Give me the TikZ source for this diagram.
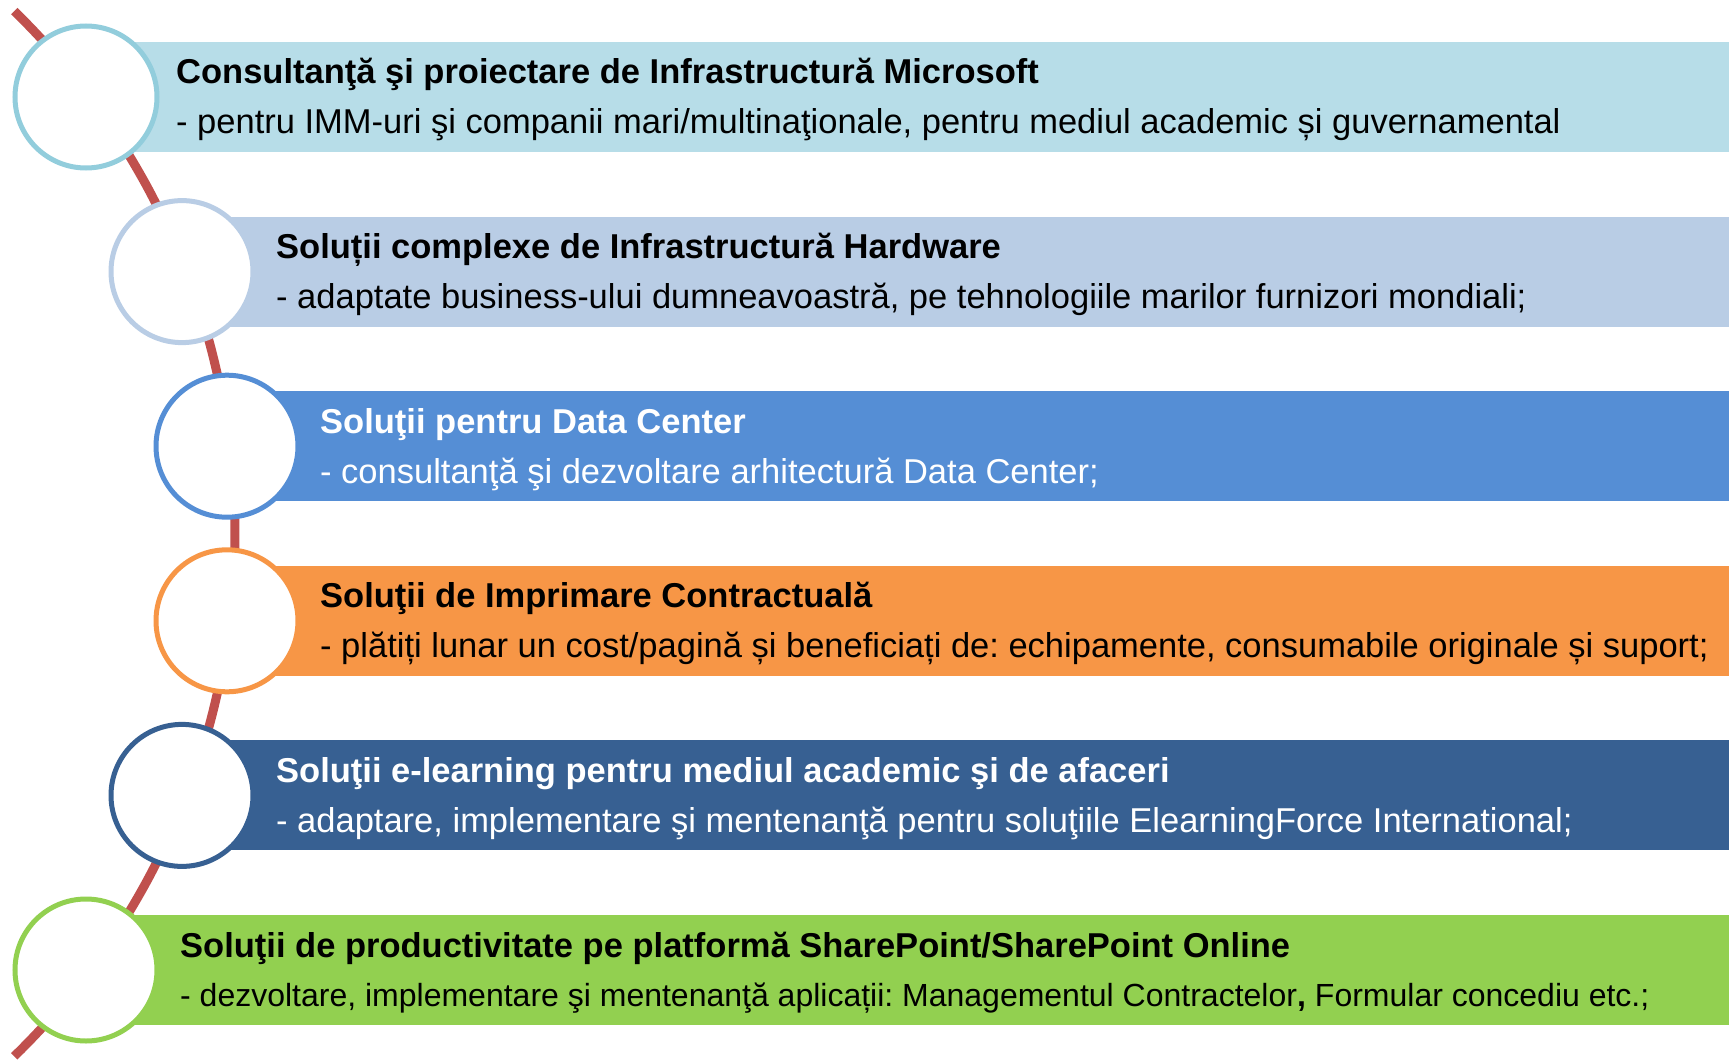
\documentclass[tikz,border=0pt]{standalone}
\usepackage{fontspec}
\setmainfont{Liberation Sans}
\frenchspacing
\definecolor{cA}{HTML}{B7DDE8}\definecolor{bA}{HTML}{92CDDC}
\definecolor{cB}{HTML}{B9CDE5}\definecolor{bB}{HTML}{B9CDE5}
\definecolor{cC}{HTML}{558ED5}\definecolor{bC}{HTML}{558ED5}
\definecolor{cD}{HTML}{F79646}\definecolor{bD}{HTML}{F79646}
\definecolor{cE}{HTML}{376092}\definecolor{bE}{HTML}{376092}
\definecolor{cF}{HTML}{92D050}\definecolor{bF}{HTML}{92D050}
\definecolor{arcred}{HTML}{C0504D}
\tikzset{
  bar/.style={fill=#1, draw=none, anchor=west, minimum height=110pt, inner sep=0pt},
  ring/.style={circle, draw=#1, line width=5pt, fill=white, minimum size=142pt, inner sep=0pt},
  ttl/.style={anchor=base west, inner sep=0pt, font=\fontsize{34.5}{40}\selectfont\bfseries, text=#1},
  sub/.style={anchor=base west, inner sep=0pt, font=\fontsize{34.5}{40}\selectfont, text=#1},
}
\begin{document}
\begin{tikzpicture}[x=1pt,y=-1pt]
\useasboundingbox (0,0) rectangle (1729,1062);
\draw[arcred, line width=9pt] plot[domain=-45.8:45.8, samples=120, smooth] ({-494+729*cos(\x)}, {533.7+729*sin(\x)});
% bars
\node[bar=cA, minimum width=1643pt] (barA) at (86,97) {};
\node[bar=cB, minimum width=1547pt] (barB) at (182,271.6) {};
\node[bar=cC, minimum width=1503pt] (barC) at (226,446.2) {};
\node[bar=cD, minimum width=1503pt] (barD) at (226,620.8) {};
\node[bar=cE, minimum width=1547pt] (barE) at (182,795.4) {};
\node[bar=cF, minimum width=1643pt] (barF) at (86,970) {};
% circles
\node[ring=bA] (cirA) at (86,97) {};
\node[ring=bB] (cirB) at (182,271.6) {};
\node[ring=bC] (cirC) at (227,446.2) {};
\node[ring=bD] (cirD) at (227,620.8) {};
\node[ring=bE] (cirE) at (182,795.4) {};
\node[ring=bF] (cirF) at (86,970) {};
% texts
\node[ttl=black] (tA) at (176,84) {Consultanţă şi proiectare de Infrastructură Microsoft};
\node[sub=black] (sA) at (176,134) {- pentru IMM-uri şi companii mari/multinaţionale, pentru mediul academic și guvernamental};
\node[ttl=black] (tB) at (276,258.6) {Soluții complexe de Infrastructură Hardware};
\node[sub=black] (sB) at (276,308.6) {- adaptate business-ului dumneavoastră, pe tehnologiile marilor furnizori mondiali;};
\node[ttl=white] (tC) at (320,433.2) {Soluţii pentru Data Center};
\node[sub=white] (sC) at (320,483.2) {- consultanţă şi dezvoltare arhitectură Data Center;};
\node[ttl=black] (tD) at (320,607.8) {Soluţii de Imprimare Contractuală};
\node[sub=black] (sD) at (320,657.8) {- plătiți lunar un cost/pagină și beneficiați de: echipamente, consumabile originale și suport;};
\node[ttl=white] (tE) at (276,782.4) {Soluţii e-learning pentru mediul academic şi de afaceri};
\node[sub=white] (sE) at (276,832.4) {- adaptare, implementare şi mentenanţă pentru soluţiile ElearningForce International;};
\node[ttl=black] (tF) at (180,957) {Soluţii de productivitate pe platformă SharePoint/SharePoint Online};
\node[sub=black, font=\fontsize{32}{36}\selectfont] (sF) at (180,1006) {- dezvoltare, implementare şi mentenanţă aplicații: Managementul Contractelor\textbf{,} Formular concediu etc.;};
\end{tikzpicture}
\end{document}
